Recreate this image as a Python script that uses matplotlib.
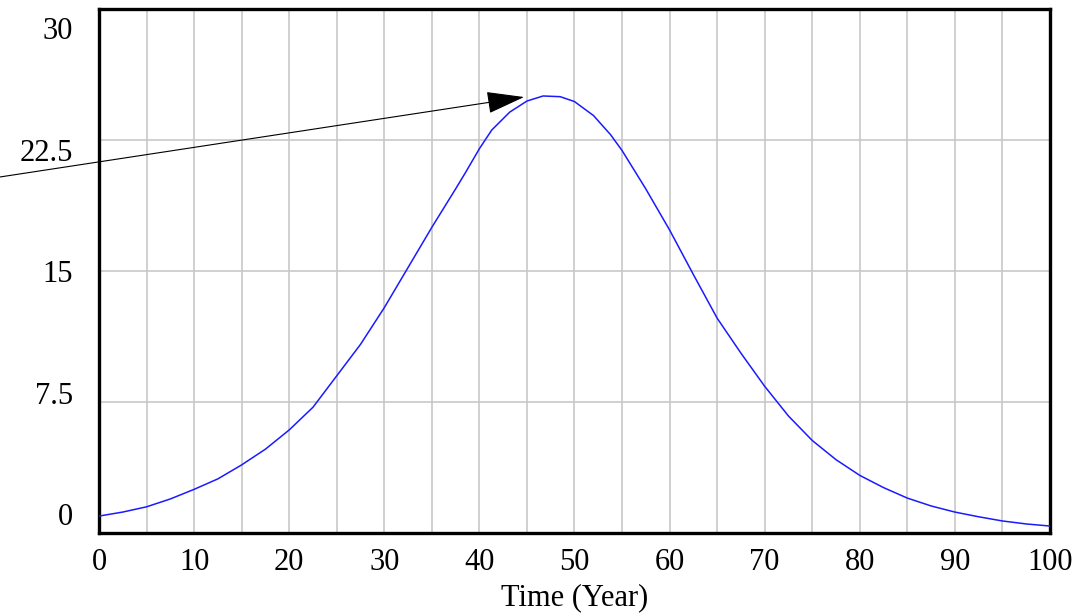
import matplotlib.pyplot as plt

plt.rcParams['font.family'] = ['Liberation Serif', 'DejaVu Serif']

# valores
tempo = [0, 2.5, 5, 7.5, 10, 12.5, 15, 17.5, 20, 22.5, 25, 27.5, 30, 32.5, 35,
         37.5, 38.5, 40, 41.3, 43.2, 45, 46.7, 48.5, 50, 52, 53.8, 55, 57.5,
         60, 62.5, 65, 67.5, 70, 72.5, 75, 77.5, 80, 82.5, 85, 87.5, 90, 92.5,
         95, 97.5, 100]
valores = [0.97, 1.2, 1.5, 1.95, 2.5, 3.1, 3.9, 4.8, 5.9, 7.2, 9.0, 10.8, 12.9,
           15.2, 17.5, 19.7, 20.6, 22.0, 23.07, 24.1, 24.73, 25.02, 24.98,
           24.7, 23.9, 22.8, 21.9, 19.7, 17.35, 14.8, 12.3, 10.3, 8.4, 6.7,
           5.3, 4.2, 3.3, 2.6, 2.0, 1.55, 1.2, 0.93, 0.69, 0.52, 0.40]
rotulos_y = ["0", "7.5", "15", "22.5", "30"]
rotulos_x = [str(v) for v in range(0, 101, 10)]

fig = plt.figure(figsize=(10.83, 6.16), dpi=100)
ax = fig.add_axes([0.0914, 0.1347, 0.8781, 0.8507])

ax.plot(tempo, valores, color='#1a1aff', lw=1.1, zorder=3)

ax.set_xlim(0, 100)
ax.set_ylim(0, 30)

# grade
ax.set_xticks(range(0, 101, 10))
ax.set_xticks(range(5, 100, 10), minor=True)
ax.set_yticks([0, 7.5, 15, 22.5, 30])
ax.grid(True, which='both', color='#c8c8c8', lw=1.2, zorder=1)
ax.set_xticklabels(rotulos_x, fontsize=22)
ax.tick_params(axis='x', which='both', length=0, pad=11)
ax.tick_params(axis='y', length=0, labelleft=False)

# rótulos do eixo y (espaçados como no original)
for k, r in enumerate(rotulos_y):
    y_px = 514 - 121.4 * k
    ax.text(-0.027, (533 - y_px) / 524, r, transform=ax.transAxes,
            ha='right', va='center_baseline', fontsize=22)

ax.set_xlabel("Time (Year)", fontsize=22, labelpad=4)

for s in ax.spines.values():
    s.set_linewidth(2.4)
    s.set_color('black')

# seta apontando para o pico
ax.annotate('', xy=(44.7, 24.96), xycoords='data',
            xytext=(0, 0.7127), textcoords='figure fraction',
            arrowprops=dict(arrowstyle='-|>,head_length=1.2,head_width=0.35',
                            mutation_scale=20, lw=0.8, color='black',
                            shrinkA=0, shrinkB=0),
            annotation_clip=False, zorder=5)

plt.savefig("out.png", dpi=100)
plt.close()
